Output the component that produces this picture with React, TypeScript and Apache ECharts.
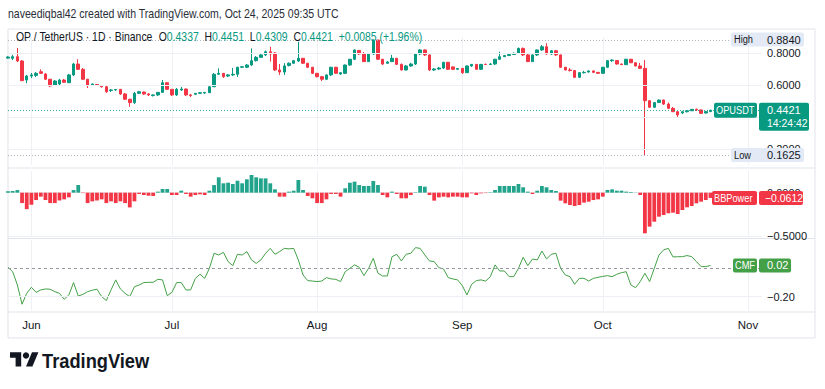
import React, { useEffect, useRef } from 'react';
import * as echarts from 'echarts';

const FONT = '"Liberation Sans", Arial, sans-serif';
const MONTHS = ['Jan', 'Feb', 'Mar', 'Apr', 'May', 'Jun', 'Jul', 'Aug', 'Sep', 'Oct', 'Nov', 'Dec'];
const FIRST_DAY_UTC = Date.UTC(2025, 4, 27);
const AXIS_DAY_COUNT = 162; // May 27 .. Nov 4 (visible time range)

function buildDays(): string[] {
  const out: string[] = [];
  for (let k = 0; k < AXIS_DAY_COUNT; k++) {
    out.push(new Date(FIRST_DAY_UTC + k * 86400000).toISOString().slice(0, 10));
  }
  return out;
}
const days = buildDays();

// OPUSDT daily OHLC, May 27 .. Oct 24 2025
const opens = [
  0.768,
  0.767, 0.777, 0.750, 0.631, 0.656, 0.660, 0.683, 0.669, 0.636, 0.600,
  0.606, 0.631, 0.614, 0.663, 0.731, 0.698, 0.636, 0.598, 0.603, 0.597,
  0.589, 0.566, 0.569, 0.573, 0.544, 0.511, 0.490, 0.548, 0.556, 0.544,
  0.534, 0.538, 0.554, 0.614, 0.573, 0.538, 0.569, 0.575, 0.538, 0.542,
  0.548, 0.550, 0.552, 0.589, 0.667, 0.673, 0.656, 0.663, 0.667, 0.711,
  0.711, 0.725, 0.752, 0.773, 0.788, 0.808, 0.800, 0.694, 0.681, 0.722,
  0.736, 0.750, 0.767, 0.736, 0.711, 0.673, 0.652, 0.636, 0.663, 0.711,
  0.669, 0.673, 0.725, 0.761, 0.816, 0.794, 0.746, 0.794, 0.881, 0.761,
  0.736, 0.746, 0.767, 0.729, 0.694, 0.719, 0.731, 0.794, 0.819, 0.788,
  0.694, 0.700, 0.706, 0.742, 0.713, 0.698, 0.704, 0.677, 0.719, 0.729,
  0.698, 0.729, 0.728, 0.731, 0.761, 0.777, 0.784, 0.791, 0.798, 0.829,
  0.788, 0.746, 0.788, 0.819, 0.839, 0.794, 0.814, 0.788, 0.711, 0.694,
  0.690, 0.648, 0.677, 0.681, 0.688, 0.679, 0.673, 0.711, 0.752, 0.753,
  0.731, 0.727, 0.761, 0.739, 0.719, 0.704, 0.502, 0.461, 0.490, 0.506,
  0.481, 0.454, 0.433, 0.425, 0.433, 0.439, 0.448, 0.444, 0.425, 0.4337,
];
const closes = [
  0.775,
  0.777, 0.750, 0.627, 0.656, 0.663, 0.673, 0.673, 0.636, 0.594, 0.625,
  0.631, 0.617, 0.663, 0.731, 0.698, 0.636, 0.600, 0.606, 0.598, 0.589,
  0.558, 0.569, 0.572, 0.544, 0.511, 0.490, 0.548, 0.558, 0.544, 0.538,
  0.538, 0.554, 0.614, 0.573, 0.538, 0.573, 0.575, 0.538, 0.534, 0.548,
  0.552, 0.554, 0.589, 0.667, 0.673, 0.652, 0.663, 0.667, 0.711, 0.714,
  0.725, 0.752, 0.773, 0.788, 0.808, 0.794, 0.694, 0.681, 0.719, 0.736,
  0.752, 0.767, 0.736, 0.711, 0.673, 0.652, 0.636, 0.663, 0.711, 0.673,
  0.677, 0.725, 0.761, 0.819, 0.794, 0.746, 0.794, 0.881, 0.761, 0.731,
  0.744, 0.767, 0.729, 0.694, 0.719, 0.731, 0.794, 0.819, 0.788, 0.694,
  0.700, 0.706, 0.742, 0.698, 0.698, 0.703, 0.677, 0.719, 0.729, 0.698,
  0.729, 0.728, 0.731, 0.761, 0.777, 0.784, 0.791, 0.798, 0.829, 0.788,
  0.746, 0.788, 0.819, 0.839, 0.794, 0.814, 0.788, 0.711, 0.694, 0.691,
  0.648, 0.677, 0.679, 0.688, 0.679, 0.673, 0.711, 0.752, 0.756, 0.731,
  0.727, 0.761, 0.739, 0.719, 0.704, 0.502, 0.461, 0.490, 0.506, 0.481,
  0.454, 0.433, 0.413, 0.433, 0.439, 0.448, 0.444, 0.423, 0.4336, 0.4421,
];
const lows = [
  0.765,
  0.756, 0.744, 0.625, 0.611, 0.644, 0.650, 0.669, 0.631, 0.588, 0.594,
  0.600, 0.613, 0.613, 0.656, 0.694, 0.631, 0.581, 0.594, 0.594, 0.584,
  0.550, 0.556, 0.563, 0.538, 0.506, 0.464, 0.481, 0.544, 0.538, 0.531,
  0.528, 0.531, 0.550, 0.569, 0.531, 0.531, 0.563, 0.531, 0.525, 0.538,
  0.544, 0.544, 0.550, 0.588, 0.663, 0.644, 0.650, 0.656, 0.650, 0.706,
  0.706, 0.719, 0.747, 0.769, 0.781, 0.746, 0.688, 0.663, 0.663, 0.716,
  0.731, 0.744, 0.731, 0.706, 0.669, 0.647, 0.625, 0.631, 0.656, 0.669,
  0.663, 0.669, 0.719, 0.756, 0.788, 0.744, 0.744, 0.788, 0.756, 0.725,
  0.731, 0.744, 0.725, 0.691, 0.691, 0.713, 0.725, 0.788, 0.781, 0.688,
  0.688, 0.694, 0.700, 0.694, 0.694, 0.694, 0.669, 0.675, 0.713, 0.694,
  0.694, 0.725, 0.725, 0.725, 0.756, 0.775, 0.781, 0.788, 0.794, 0.781,
  0.744, 0.744, 0.781, 0.813, 0.788, 0.788, 0.781, 0.706, 0.691, 0.684,
  0.644, 0.644, 0.672, 0.678, 0.675, 0.669, 0.669, 0.706, 0.744, 0.728,
  0.725, 0.725, 0.738, 0.716, 0.700, 0.1625, 0.456, 0.456, 0.488, 0.475,
  0.450, 0.431, 0.398, 0.419, 0.428, 0.438, 0.438, 0.419, 0.422, 0.4309,
];
const highs = [
  0.780,
  0.788, 0.831, 0.756, 0.663, 0.675, 0.681, 0.698, 0.675, 0.638, 0.631,
  0.638, 0.638, 0.669, 0.738, 0.761, 0.706, 0.638, 0.609, 0.606, 0.600,
  0.594, 0.575, 0.575, 0.575, 0.550, 0.513, 0.556, 0.563, 0.559, 0.550,
  0.541, 0.556, 0.631, 0.619, 0.575, 0.581, 0.588, 0.578, 0.544, 0.550,
  0.556, 0.556, 0.594, 0.675, 0.704, 0.675, 0.669, 0.706, 0.713, 0.719,
  0.731, 0.829, 0.781, 0.797, 0.816, 0.839, 0.806, 0.731, 0.736, 0.741,
  0.756, 0.870, 0.769, 0.738, 0.713, 0.675, 0.656, 0.666, 0.713, 0.713,
  0.681, 0.728, 0.763, 0.822, 0.819, 0.806, 0.800, 0.884, 0.882, 0.763,
  0.750, 0.788, 0.769, 0.734, 0.725, 0.738, 0.800, 0.825, 0.822, 0.791,
  0.706, 0.713, 0.744, 0.744, 0.716, 0.706, 0.706, 0.722, 0.731, 0.731,
  0.731, 0.734, 0.738, 0.763, 0.808, 0.788, 0.794, 0.803, 0.834, 0.834,
  0.800, 0.791, 0.822, 0.850, 0.861, 0.819, 0.819, 0.791, 0.713, 0.706,
  0.694, 0.681, 0.688, 0.691, 0.691, 0.681, 0.713, 0.756, 0.760, 0.756,
  0.734, 0.763, 0.763, 0.741, 0.738, 0.756, 0.506, 0.494, 0.509, 0.509,
  0.491, 0.463, 0.438, 0.438, 0.444, 0.450, 0.453, 0.447, 0.438, 0.4451,
];

// Bull Bear Power
const bbPower = [
  0.015,
  0.019, 0.03, -0.12, -0.19, -0.14, -0.085, -0.046, -0.085, -0.12, -0.12,
  -0.09, -0.077, -0.054, 0.03, 0.088, -0.005, -0.12, -0.10, -0.09, -0.077,
  -0.12, -0.10, -0.12, -0.10, -0.12, -0.17, -0.10, -0.015, -0.027, -0.035,
  -0.038, 0.012, 0.042, 0.042, -0.027, -0.027, 0.023, -0.015, -0.046, -0.027,
  -0.019, -0.027, 0.023, 0.088, 0.177, 0.108, 0.115, 0.10, 0.138, 0.108,
  0.154, 0.204, 0.177, 0.165, 0.165, 0.108, 0.038, -0.046, -0.046, 0.012,
  0.023, 0.146, 0.031, -0.038, -0.065, -0.12, -0.12, -0.077, -0.015, -0.015,
  -0.046, 0.05, 0.115, 0.127, 0.088, 0.077, 0.077, 0.135, 0.088, -0.027,
  -0.054, 0.012, -0.015, -0.065, -0.065, -0.027, 0.005, 0.077, 0.069, -0.027,
  -0.092, -0.054, -0.046, -0.054, -0.046, -0.046, -0.054, -0.054, -0.008, -0.027,
  -0.008, -0.005, 0.005, 0.031, 0.077, 0.077, 0.077, 0.077, 0.10, 0.062,
  0.012, -0.015, 0.023, 0.077, 0.062, 0.031, 0.019, -0.092, -0.123, -0.142,
  -0.154, -0.142, -0.115, -0.104, -0.085, -0.077, -0.046, 0.031, 0.038, 0.023,
  0.023, 0.012, 0.008, 0.002, -0.027, -0.469, -0.392, -0.335, -0.277, -0.258,
  -0.238, -0.231, -0.246, -0.2, -0.169, -0.154, -0.123, -0.104, -0.085, -0.0612,
];

// Chaikin Money Flow
const cmf = [
  0.007, -0.024, -0.118, -0.254, -0.177, -0.134, -0.170, -0.153, -0.146, -0.148,
  -0.165, -0.177, -0.219, -0.188, -0.101, -0.196, -0.184, -0.165, -0.155, -0.148,
  -0.200, -0.228, -0.153, -0.082, -0.146, -0.177, -0.200, -0.130, -0.118, -0.101,
  -0.099, -0.099, -0.078, -0.082, -0.193, -0.170, -0.101, -0.101, -0.153, -0.153,
  -0.071, -0.042, -0.071, 0.0, 0.106, 0.094, 0.113, 0.047, 0.019, 0.099,
  0.094, 0.118, 0.059, 0.035, 0.059, 0.106, 0.141, 0.099, 0.118, 0.141,
  0.137, 0.141, 0.059, -0.047, -0.087, -0.090, -0.094, -0.090, -0.066, -0.075,
  -0.078, -0.094, -0.024, 0.0, 0.024, 0.007, -0.052, 0.0, 0.071, -0.035,
  -0.054, -0.054, 0.082, 0.099, 0.052, 0.099, 0.106, 0.146, 0.141, 0.094,
  0.052, 0.047, 0.005, -0.005, -0.066, -0.075, -0.082, -0.122, -0.188, -0.113,
  -0.087, -0.082, -0.090, -0.059, 0.024, -0.019, -0.019, -0.059, -0.059, 0.0,
  0.078, 0.019, 0.066, 0.059, 0.122, 0.066, 0.099, 0.106, 0.0, -0.047,
  -0.059, -0.113, -0.071, -0.071, -0.090, -0.071, -0.064, -0.057, -0.052, -0.059,
  -0.042, -0.031, -0.024, -0.118, -0.137, -0.094, -0.035, -0.094, 0.0, 0.094,
  0.130, 0.141, 0.080, 0.082, 0.082, 0.090, 0.082, 0.047, 0.012, 0.012,
  0.02,
];

const PRICE_GRID = [0.2, 0.4, 0.6, 0.8];
const PRICE_LABELS = [2, 6, 8]; // tenths shown on the price scale (0.4000 sits under the last-price tag)
const BBP_GRID = [0, -0.5];
const CMF_GRID = [-0.2];
const COUNTDOWN = '14:24:42';

const UP = '#089981';
const DOWN = '#f23645';
const BBP_UP = '#22a38c';
const CMF_COLOR = '#43a047';
const TEXT = '#131722';
const TAG_SX = 0.84;

const minus = (v: number, d: number) => (v < 0 ? '\u2212' + Math.abs(v).toFixed(d) : v.toFixed(d));
const isMonthStart = (_i: number, v: string) => v.slice(8) === '01';

function xAxis(gridIndex: number, showLabels: boolean) {
  return {
    type: 'category',
    gridIndex,
    data: days,
    boundaryGap: false,
    axisLine: { show: false },
    axisTick: { show: false },
    axisLabel: {
      show: showLabels,
      interval: isMonthStart,
      formatter: (v: string) => MONTHS[Number(v.slice(5, 7)) - 1],
      color: TEXT,
      fontSize: 11.5,
      fontFamily: FONT,
      margin: 8,
    },
    splitLine: { show: true, interval: isMonthStart, lineStyle: { color: '#eef0f4', width: 1 } },
  };
}

function yAxis(gridIndex: number, min: number, max: number, interval: number, fmt: (v: number) => string) {
  return {
    type: 'value',
    gridIndex,
    position: 'right',
    min,
    max,
    interval,
    splitLine: { show: false },
    axisLine: { show: false },
    axisTick: { show: false },
    axisLabel: { margin: 5, align: 'left', color: TEXT, fontSize: 11, fontFamily: FONT, formatter: fmt },
  };
}

function gridLines(values: number[]) {
  return values.map((v) => ({ yAxis: v, lineStyle: { color: '#eceff4', type: 'solid', width: 1 } }));
}

function buildOption() {
  const hi = Math.max(...highs);
  const lo = Math.min(...lows);
  const last = closes[closes.length - 1];
  return {
    animation: false,
    backgroundColor: '#ffffff',
    grid: [
      { left: 8, right: 63, top: 37, height: 128 },
      { left: 8, right: 63, top: 171, height: 65 },
      { left: 8, right: 63, top: 240, height: 70.75 },
    ],
    xAxis: [xAxis(0, false), xAxis(1, false), xAxis(2, true)],
    yAxis: [
      yAxis(0, 0.1, 0.9, 0.1, (v) => {
        const r = Math.round(v * 10);
        return PRICE_LABELS.indexOf(r) >= 0 ? v.toFixed(4) : '';
      }),
      yAxis(1, -0.5, 0.25, 0.25, (v) => (Math.abs(v) < 1e-9 ? '0.0000' : Math.abs(v + 0.5) < 1e-9 ? minus(v, 4) : '')),
      yAxis(2, -0.3, 0.2, 0.1, (v) => (Math.abs(v + 0.2) < 1e-9 ? minus(v, 2) : '')),
    ],
    series: [
      {
        type: 'candlestick',
        xAxisIndex: 0,
        yAxisIndex: 0,
        barWidth: 3,
        data: opens.map((o, k) => [o, closes[k], lows[k], highs[k]]),
        itemStyle: { color: UP, color0: DOWN, borderColor: UP, borderColor0: DOWN, borderWidth: 1 },
        markLine: {
          silent: true,
          symbol: 'none',
          label: { show: false },
          data: [
            ...gridLines(PRICE_GRID),
            { yAxis: hi, lineStyle: { color: '#b2b5be', type: [1, 2], width: 1 } },
            { yAxis: lo, lineStyle: { color: '#b2b5be', type: [1, 2], width: 1 } },
            { yAxis: last, lineStyle: { color: UP, type: [1, 2], width: 1, opacity: 0.8 } },
          ],
        },
      },
      {
        type: 'bar',
        xAxisIndex: 1,
        yAxisIndex: 1,
        barWidth: 3.8,
        data: bbPower,
        itemStyle: { color: (p: any) => (p.value >= 0 ? BBP_UP : DOWN) },
        markLine: { silent: true, symbol: 'none', label: { show: false }, data: gridLines(BBP_GRID), z: 0 },
      },
      {
        type: 'line',
        xAxisIndex: 2,
        yAxisIndex: 2,
        data: cmf,
        showSymbol: false,
        lineStyle: { color: CMF_COLOR, width: 1 },
        itemStyle: { color: CMF_COLOR },
        markLine: {
          silent: true,
          symbol: 'none',
          label: { show: false },
          data: [
            ...gridLines(CMF_GRID),
            { yAxis: 0, lineStyle: { color: '#9598a1', type: [3, 3], width: 1 } },
          ],
        },
      },
    ],
  };
}

function txt(x: number, y: number, text: string, fill: string, size: number, extra: any = {}) {
  return {
    type: 'text',
    x,
    y,
    scaleX: extra.sx || TAG_SX,
    z: 101,
    style: { text, fill, font: `${extra.weight || 'normal'} ${size}px ${FONT}`, verticalAlign: 'middle', align: 'left' },
  };
}

function rect(x: number, y: number, w: number, h: number, fill: string) {
  return { type: 'rect', z: 100, shape: { x, y, width: w, height: h, r: 2 }, style: { fill } };
}

function line(x1: number, y1: number, x2: number, y2: number) {
  return { type: 'line', z: 0, shape: { x1, y1, x2, y2 }, style: { stroke: '#e0e3eb', lineWidth: 1 } };
}

function buildGraphic(chart: any) {
  const hi = Math.max(...highs);
  const lo = Math.min(...lows);
  const n = closes.length;
  const last = closes[n - 1];
  const prev = closes[n - 2];
  const chg = last - prev;
  const pct = (chg / prev) * 100;
  const lastB = bbPower[bbPower.length - 1];
  const lastC = cmf[cmf.length - 1];

  const yHi = chart.convertToPixel({ yAxisIndex: 0 }, hi);
  const yLo = chart.convertToPixel({ yAxisIndex: 0 }, lo);
  const yLast = chart.convertToPixel({ yAxisIndex: 0 }, last);
  const yB = chart.convertToPixel({ yAxisIndex: 1 }, lastB);
  const yC = chart.convertToPixel({ yAxisIndex: 2 }, lastC);

  const sign = chg >= 0 ? '+' : '\u2212';
  const legend = {
    type: 'text',
    x: 16,
    y: 37,
    scaleX: 0.87,
    z: 101,
    style: {
      text:
        `{a|OP / TetherUS · 1D · Binance}  {a|O}{g|${opens[n - 1].toFixed(4)}}  {a|H}{g|${highs[n - 1].toFixed(4)}}  ` +
        `{a|L}{g|${lows[n - 1].toFixed(4)}}  {a|C}{g|${last.toFixed(4)}}  {g|${sign}${Math.abs(chg).toFixed(4)} (${sign}${Math.abs(pct).toFixed(2)}%)}`,
      verticalAlign: 'middle',
      rich: {
        a: { fill: TEXT, font: `12px ${FONT}` },
        g: { fill: UP, font: `12px ${FONT}` },
      },
    },
  };

  return [
    // frame & pane separators
    line(8, 29, 815, 29),
    line(8, 29, 8, 338),
    line(815, 29, 815, 338),
    line(8, 338, 815, 338),
    line(8, 168, 815, 168),
    line(8, 238.5, 815, 238.5),
    line(8, 312, 815, 312),
    // header
    txt(8, 14, 'naveediqbal42 created with TradingView.com, Oct 24, 2025 09:35 UTC', '#2a2e39', 13, { sx: 0.81 }),
    legend,
    // High / Low tags
    rect(731, yHi - 7, 73, 14, '#e3e9f5'),
    txt(734, yHi, 'High', TEXT, 11),
    txt(767, yHi, hi.toFixed(4), TEXT, 11, { sx: 1 }),
    rect(731, yLo - 7, 73, 14, '#e3e9f5'),
    txt(734, yLo, 'Low', TEXT, 11),
    txt(767, yLo, lo.toFixed(4), TEXT, 11, { sx: 1 }),
    // last price tag
    rect(714, yLast - 7.5, 43, 15, UP),
    txt(716, yLast, 'OPUSDT', '#ffffff', 11),
    rect(759, yLast - 7.5, 50, 28, UP),
    txt(767, yLast, last.toFixed(4), '#ffffff', 11, { sx: 1 }),
    txt(767, yLast + 12.5, COUNTDOWN, '#ffffff', 11, { sx: 0.95 }),
    // BBPower tag
    rect(712, yB - 7, 45, 14, DOWN),
    txt(714, yB, 'BBPower', '#ffffff', 11),
    rect(759, yB - 7, 44, 14, lastB >= 0 ? BBP_UP : DOWN),
    txt(765, yB, minus(lastB, 4), '#ffffff', 11, { sx: 0.95 }),
    // CMF tag
    rect(733, yC - 7, 24, 14, CMF_COLOR),
    txt(735, yC, 'CMF', '#ffffff', 11),
    rect(759, yC - 7, 32, 14, CMF_COLOR),
    txt(767, yC, lastC.toFixed(2), '#ffffff', 11, { sx: 1 }),
    // TradingView logo
    {
      type: 'group',
      x: 10,
      y: 349,
      scaleX: 0.8,
      scaleY: 0.8,
      z: 101,
      children: [
        { type: 'polygon', shape: { points: [[0, 4], [14, 4], [14, 22], [7, 22], [7, 11], [0, 11]] }, style: { fill: '#131722' } },
        { type: 'circle', shape: { cx: 20, cy: 8, r: 4 }, style: { fill: '#131722' } },
        { type: 'polygon', shape: { points: [[20, 22], [27.5, 4], [35.5, 4], [28, 22]] }, style: { fill: '#131722' } },
      ],
    },
    txt(42, 361, 'TradingView', '#131722', 21, { weight: 'bold', sx: 0.87 }),
  ];
}

export default function App() {
  const ref = useRef<HTMLDivElement>(null);
  useEffect(() => {
    const el = ref.current;
    if (!el) return;
    const chart = echarts.init(el, null, { renderer: 'svg' });
    chart.setOption(buildOption() as any);
    chart.setOption({ graphic: buildGraphic(chart) } as any);
    return () => chart.dispose();
  }, []);
  return (
    <div
      ref={ref}
      style={{ position: 'fixed', left: 0, top: 0, width: 825, height: 389, background: '#ffffff' }}
    />
  );
}
